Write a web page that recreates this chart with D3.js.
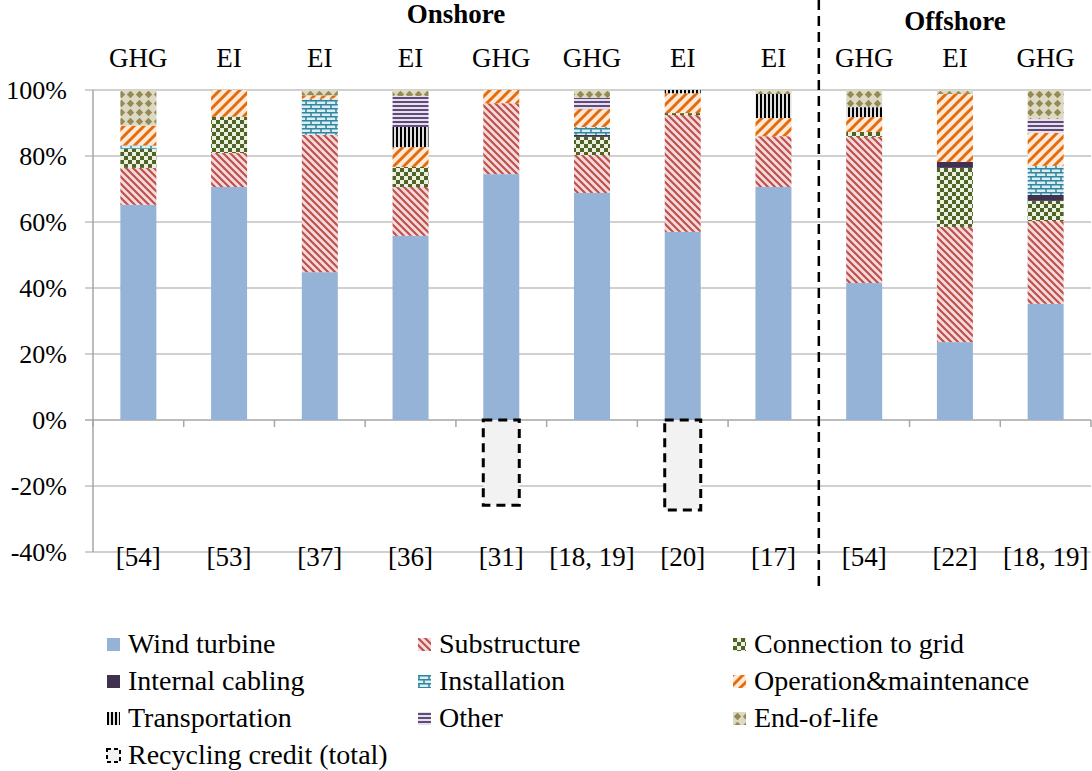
<!DOCTYPE html>
<html>
<head>
<meta charset="utf-8">
<script src="https://cdn.jsdelivr.net/npm/d3@7"></script>
<style>
  body { margin: 0; background: #fff; }
</style>
</head>
<body>
<script>
//data
var refs = ["[54]", "[53]", "[37]", "[36]", "[31]", "[18, 19]", "[20]", "[17]", "[54]", "[22]", "[18, 19]"];
var metric = ["GHG", "EI", "EI", "EI", "GHG", "GHG", "EI", "EI", "GHG", "EI", "GHG"];
var groups = ["Onshore", "Offshore"];
var groupSize = [8, 3];
var yTicks = [-40, -20, 0, 20, 40, 60, 80, 100];

var windTurbine = [65.2, 70.6, 44.8, 55.8, 74.5, 68.8, 57.0, 70.6, 41.5, 23.6, 35.2];
var substructure = [11.2, 10.3, 41.6, 14.8, 21.5, 11.5, 35.4, 15.4, 44.3, 34.9, 25.1];
var connection = [5.8, 11.0, 0, 6.1, 0, 5.5, 0.6, 0, 1.5, 17.9, 6.1];
var cabling = [0, 0, 0, 0, 0, 0.6, 0, 0, 0, 1.8, 1.8];
var installation = [1.0, 0, 11.0, 0, 0, 2.4, 0, 0, 0, 0, 8.8];
var operation = [6.0, 8.1, 1.0, 6.0, 4.0, 5.4, 6.0, 5.5, 4.5, 20.6, 10.0];
var transportation = [0, 0, 0, 6.1, 0, 0, 1.0, 7.3, 3.0, 0, 0];
var other = [0, 0, 0, 9.4, 0, 3.4, 0, 0, 0, 0, 4.2];
var endOfLife = [10.8, 0, 1.6, 1.8, 0, 2.4, 0, 1.2, 5.2, 1.2, 8.8];
var recycling = [0, 0, 0, 0, -25.8, 0, -27.3, 0, 0, 0, 0];

var keys = ["wind", "sub", "conn", "cab", "inst", "om", "trans", "other", "eol"];
var names = ["Wind turbine", "Substructure", "Connection to grid", "Internal cabling", "Installation",
    "Operation&maintenance", "Transportation", "Other", "End-of-life"];
var series = [windTurbine, substructure, connection, cabling, installation, operation, transportation, other, endOfLife];

var rows = refs.map(function (r, i) {
    var o = { i: i, ref: r };
    keys.forEach(function (k, j) { o[k] = series[j][i]; });
    return o;
});

var W = 1092, H = 771;
var m = { left: 93, right: 1091, top: 90, bottom: 552 };
var serif = "'Liberation Serif', 'Times New Roman', Tinos, 'DejaVu Serif', serif";

var x = d3.scaleBand()
    .domain(d3.range(refs.length))
    .range([m.left, m.right]);
var barW = 36;
var y = d3.scaleLinear()
    .domain([-40, 100])
    .range([m.bottom, m.top]);

var svg = d3.select("body").append("svg")
    .attr("width", W)
    .attr("height", H)
    .attr("font-family", serif)
    .style("font-family", serif);

//patterns
var defs = svg.append("defs");

function pat(id, w, h) {
    return defs.append("pattern")
        .attr("id", id)
        .attr("patternUnits", "userSpaceOnUse")
        .attr("width", w)
        .attr("height", h);
}

// substructure: red "\" stripes
var p = pat("p-sub", 7, 7);
p.append("rect").attr("width", 7).attr("height", 7).attr("fill", "#F2DCDB");
p.append("path").attr("d", "M-1,-1 L8,8 M-1,6 L1,8 M6,-1 L8,1")
    .attr("stroke", "#C0504D").attr("stroke-width", 2.2);

// connection to grid: checkerboard
p = pat("p-conn", 8, 8);
p.append("rect").attr("width", 8).attr("height", 8).attr("fill", "#EBF1DE");
p.append("rect").attr("width", 4).attr("height", 4).attr("fill", "#4F6228");
p.append("rect").attr("x", 4).attr("y", 4).attr("width", 4).attr("height", 4).attr("fill", "#4F6228");

// installation: bricks
p = pat("p-inst", 10, 8);
p.append("rect").attr("width", 10).attr("height", 8).attr("fill", "#DBEEF4");
p.append("path").attr("d", "M0,0.75 H10 M0,4.75 H10 M1,0 V4 M6,4 V8")
    .attr("stroke", "#31859C").attr("stroke-width", 1.5).attr("fill", "none");

// operation & maintenance: orange "/" stripes
p = pat("p-om", 10, 10);
p.append("rect").attr("width", 10).attr("height", 10).attr("fill", "#FDE9D9");
p.append("path").attr("d", "M-1,11 L11,-1 M-1,1 L1,-1 M9,11 L11,9")
    .attr("stroke", "#E46C0A").attr("stroke-width", 3);

// transportation: vertical stripes
p = pat("p-trans", 4, 4);
p.append("rect").attr("width", 4).attr("height", 4).attr("fill", "#E0E0E0");
p.append("rect").attr("width", 2).attr("height", 4).attr("fill", "#000");

// other: horizontal stripes
p = pat("p-other", 4, 4);
p.append("rect").attr("width", 4).attr("height", 4).attr("fill", "#E6E0EC");
p.append("rect").attr("y", 1).attr("width", 4).attr("height", 2).attr("fill", "#604A7B");

// end-of-life: diamonds
p = pat("p-eol", 9, 9);
p.append("rect").attr("width", 9).attr("height", 9).attr("fill", "#DDD9C4");
p.append("path").attr("d", "M4.5,0.8 L8.2,4.5 L4.5,8.2 L0.8,4.5 Z").attr("fill", "#948A54");

var fills = {
    wind: "#95B3D7",
    sub: "url(#p-sub)",
    conn: "url(#p-conn)",
    cab: "#403151",
    inst: "url(#p-inst)",
    om: "url(#p-om)",
    trans: "url(#p-trans)",
    other: "url(#p-other)",
    eol: "url(#p-eol)"
};

//gridlines and y labels
svg.append("g").selectAll(".grid")
    .data(yTicks)
    .enter().append("line")
    .attr("x1", m.left - 8)
    .attr("x2", m.right)
    .attr("y1", function (d) { return y(d); })
    .attr("y2", function (d) { return y(d); })
    .attr("stroke", function (d) { return d === 0 ? "#A6A6A6" : "#C0C0C0"; })
    .attr("stroke-width", 1.5);

svg.append("g").selectAll(".ylab")
    .data(yTicks)
    .enter().append("text")
    .text(function (d) { return d + "%"; })
    .attr("x", 67)
    .attr("y", function (d) { return y(d); })
    .attr("dy", "0.35em")
    .attr("text-anchor", "end")
    .style("font-size", "26px");

svg.append("line")
    .attr("x1", m.left).attr("x2", m.left)
    .attr("y1", m.top).attr("y2", m.bottom)
    .attr("stroke", "#A6A6A6").attr("stroke-width", 1.5);

//category ticks on zero line
svg.append("g").selectAll(".xtick")
    .data(d3.range(refs.length + 1))
    .enter().append("line")
    .attr("x1", function (d) { return m.left + d * x.step(); })
    .attr("x2", function (d) { return m.left + d * x.step(); })
    .attr("y1", y(0))
    .attr("y2", y(0) + 7)
    .attr("stroke", "#A6A6A6")
    .attr("stroke-width", 1.5);

//stacked bars
var stack = d3.stack().keys(keys)(rows);

svg.append("g").selectAll("g")
    .data(stack)
    .enter().append("g")
    .attr("fill", function (d) { return fills[d.key]; })
    .selectAll("rect")
    .data(function (d) { return d.filter(function (s) { return s[1] - s[0] > 0; }); })
    .enter().append("rect")
    .attr("x", function (d) { return x(d.data.i) + (x.step() - barW) / 2; })
    .attr("y", function (d) { return y(d[1]); })
    .attr("width", barW)
    .attr("height", function (d) { return y(d[0]) - y(d[1]); });

//recycling credit
svg.append("g").selectAll("rect")
    .data(recycling.map(function (v, i) { return { i: i, v: v }; }).filter(function (d) { return d.v < 0; }))
    .enter().append("rect")
    .attr("x", function (d) { return x(d.i) + (x.step() - barW) / 2; })
    .attr("y", y(0))
    .attr("width", barW)
    .attr("height", function (d) { return y(d.v) - y(0); })
    .attr("fill", "#F2F2F2")
    .attr("stroke", "#000")
    .attr("stroke-width", 3)
    .attr("stroke-dasharray", "9,6");

//labels
svg.append("g").selectAll("text")
    .data(metric)
    .enter().append("text")
    .text(function (d) { return d; })
    .attr("x", function (d, i) { return x(i) + x.step() / 2; })
    .attr("y", 67)
    .attr("text-anchor", "middle")
    .style("font-size", "27px");

svg.append("g").selectAll("text")
    .data(refs)
    .enter().append("text")
    .text(function (d) { return d; })
    .attr("x", function (d, i) { return x(i) + x.step() / 2; })
    .attr("y", 566)
    .attr("text-anchor", "middle")
    .style("font-size", "27px");

var groupStart = [0, groupSize[0]];
svg.append("g").selectAll("text")
    .data(groups)
    .enter().append("text")
    .text(function (d) { return d; })
    .attr("x", function (d, i) { return m.left + (groupStart[i] + groupSize[i] / 2) * x.step(); })
    .attr("y", function (d, i) { return i === 0 ? 23 : 30; })
    .attr("text-anchor", "middle")
    .style("font-size", "27px")
    .style("font-weight", "bold");

//separator
svg.append("line")
    .attr("x1", m.left + groupSize[0] * x.step())
    .attr("x2", m.left + groupSize[0] * x.step())
    .attr("y1", 0)
    .attr("y2", 590)
    .attr("stroke", "#000")
    .attr("stroke-width", 2.5)
    .attr("stroke-dasharray", "10,6");

//legend
var legendItems = names.map(function (n, i) { return { name: n, fill: fills[keys[i]] }; });
legendItems.push({ name: "Recycling credit (total)", fill: "#F2F2F2", dashed: true });
var colX = [107, 418, 733];

var leg = svg.append("g").selectAll("g")
    .data(legendItems)
    .enter().append("g")
    .attr("transform", function (d, i) {
        return "translate(" + colX[i % 3] + "," + (638 + Math.floor(i / 3) * 37) + ")";
    });

leg.append("rect")
    .attr("width", 13)
    .attr("height", 13)
    .attr("fill", function (d) { return d.fill; })
    .attr("stroke", function (d) { return d.dashed ? "#000" : "none"; })
    .attr("stroke-width", 2)
    .attr("stroke-dasharray", "4,3");

leg.append("text")
    .text(function (d) { return d.name; })
    .attr("x", 21)
    .attr("y", 15)
    .style("font-size", "28px");
</script>
</body>
</html>
